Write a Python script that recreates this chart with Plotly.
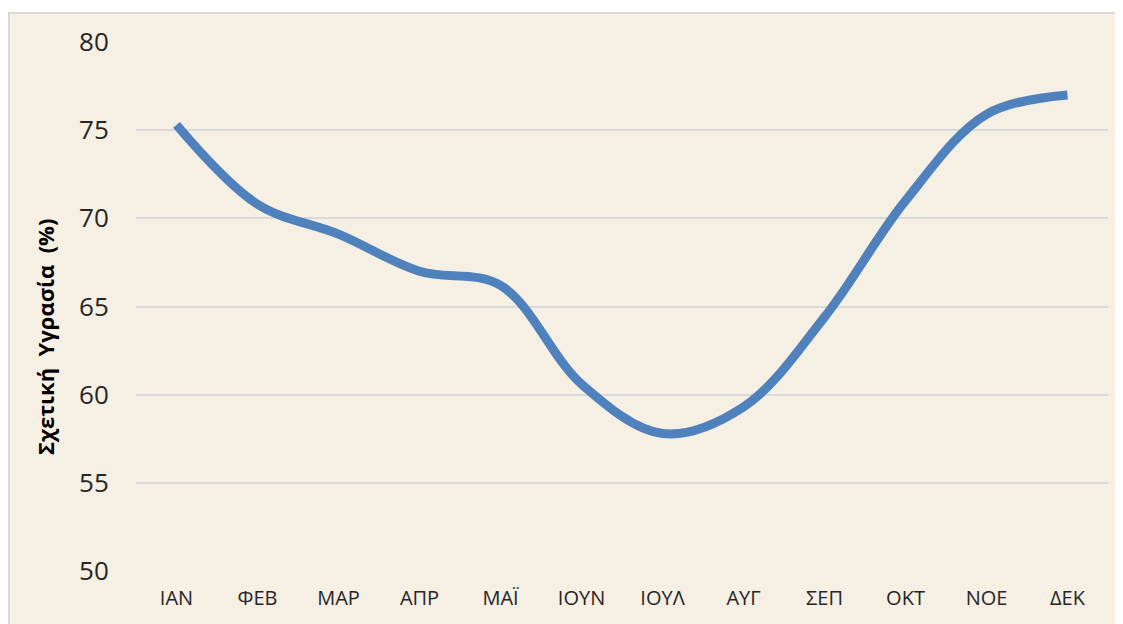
import plotly.graph_objects as go

months = ["ΙΑΝ", "ΦΕΒ", "ΜΑΡ", "ΑΠΡ", "ΜΑΪ", "ΙΟΥΝ", "ΙΟΥΛ", "ΑΥΓ", "ΣΕΠ", "ΟΚΤ", "ΝΟΕ", "ΔΕΚ"]
humidity = [75.3, 70.8, 69.1, 67.0, 66.2, 60.6, 57.8, 59.3, 64.4, 71.0, 75.9, 77.0]
y_ticks = [50, 55, 60, 65, 70, 75, 80]
y_title = "Σχετική  Υγρασία  (%)"

# page has an 8px body margin; figure coords = page coords - 8
OFF = 8
W, H = 1123 - OFF, 624 - OFF
L, T = 136 - OFF, 42 - OFF
R = W - (1108 - OFF)
B = H - (571 - OFF)
pw, ph = W - L - R, H - T - B

def px_x(xp):
    return (xp - OFF - L) / pw

def px_y(yp):
    return (H - B - (yp - OFF)) / ph

fig = go.Figure()
fig.add_trace(go.Scatter(
    x=months, y=humidity, mode="lines",
    line=dict(color="#4F81BD", width=9, shape="spline", smoothing=1.0),
    showlegend=False, hoverinfo="x+y",
))

beige = "#F5EFE4"
fig.update_layout(
    width=W, height=H,
    margin=dict(l=L, r=R, t=T, b=B),
    paper_bgcolor="white",
    plot_bgcolor=beige,
    font=dict(family="Open Sans, Noto Sans, sans-serif", color="#262626"),
    shapes=[dict(
        type="rect", xref="paper", yref="paper", layer="below",
        x0=px_x(9), x1=px_x(1135),
        y0=px_y(640), y1=px_y(13),
        fillcolor=beige, line=dict(color="#D9D9D9", width=2),
    )],
    annotations=[dict(
        text="<b>" + y_title + "</b>", xref="paper", yref="paper",
        x=px_x(45), y=px_y(337), textangle=-90,
        showarrow=False, font=dict(size=22, color="#000000"),
        xanchor="center", yanchor="middle",
    )],
)
fig.update_xaxes(
    type="category", showgrid=False, zeroline=False, showline=False,
    ticks="outside", ticklen=9, tickcolor="rgba(0,0,0,0)",
    tickfont=dict(size=20, color="#262626"),
    range=[-0.5, len(months) - 0.5],
)
fig.update_yaxes(
    range=[50, 80], tickvals=y_ticks, showgrid=True, gridcolor="#D9D9D9", gridwidth=2,
    zeroline=False, showline=False,
    ticks="outside", ticklen=21, tickcolor="rgba(0,0,0,0)",
    tickfont=dict(size=26, color="#262626"),
)
fig.write_html("out.html")
